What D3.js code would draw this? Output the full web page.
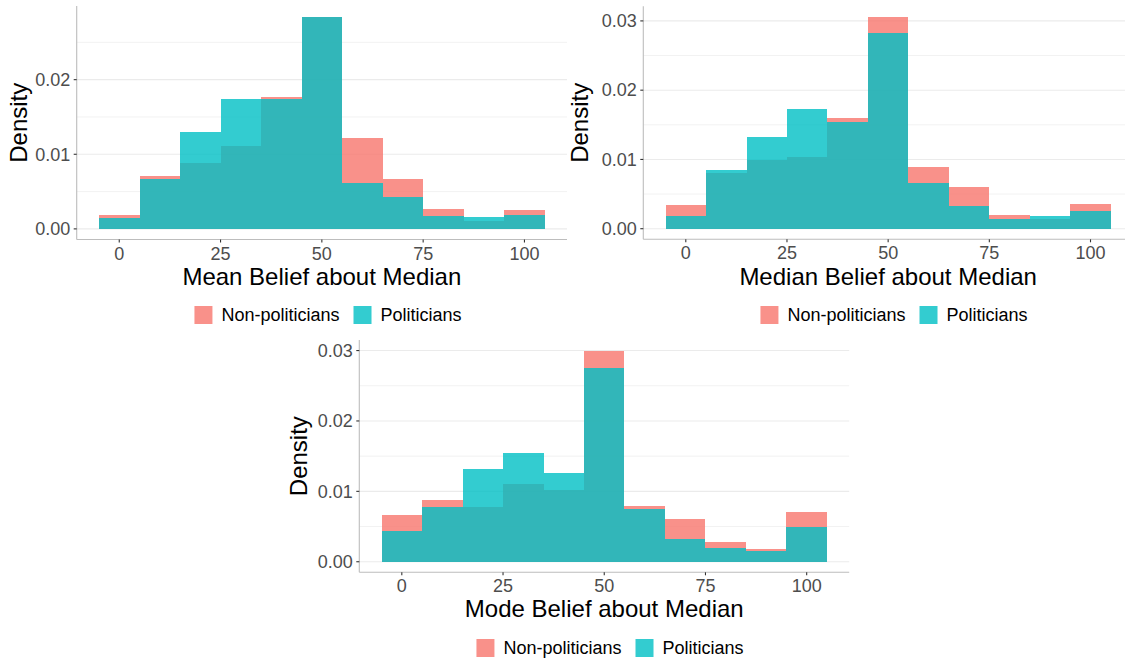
<!DOCTYPE html>
<html>
<head>
<meta charset="utf-8">
<script src="https://cdn.jsdelivr.net/npm/d3@7"></script>
<style>
  html, body { margin: 0; padding: 0; background: #ffffff; }
  svg { display: block; }
  text { font-family: "Liberation Sans", Arial, sans-serif; }
</style>
</head>
<body>
<svg id="chart" width="1125" height="661"></svg>
<script>
// ---- Data ----
const binCenters = [0, 10, 20, 30, 40, 50, 60, 70, 80, 90, 100];
const binWidth = 10;
const seriesNames = ["Non-politicians", "Politicians"];

const meanNonPol = [0.00182, 0.00705, 0.00884, 0.01116, 0.01772, 0.02840, 0.01219, 0.00670, 0.00272, 0.00102, 0.00259];
const meanPol    = [0.00147, 0.00670, 0.01300, 0.01745, 0.01736, 0.02845, 0.00620, 0.00429, 0.00174, 0.00161, 0.00188];

const medianNonPol = [0.00341, 0.00803, 0.00995, 0.01034, 0.01596, 0.03058, 0.00894, 0.00606, 0.00202, 0.00144, 0.00361];
const medianPol    = [0.00188, 0.00851, 0.01322, 0.01731, 0.01538, 0.02822, 0.00654, 0.00332, 0.00144, 0.00188, 0.00255];

const modeNonPol = [0.00658, 0.00875, 0.00781, 0.01107, 0.01013, 0.03000, 0.00795, 0.00606, 0.00274, 0.00175, 0.00700];
const modePol    = [0.00435, 0.00771, 0.01320, 0.01547, 0.01263, 0.02759, 0.00743, 0.00322, 0.00194, 0.00156, 0.00487];

const xTicks = [0, 25, 50, 75, 100];
const yTicksMean = [0, 0.01, 0.02];
const yTicksOther = [0, 0.01, 0.02, 0.03];
const yMinorMean = [0.005, 0.015, 0.025];
const yMinorOther = [0.005, 0.015, 0.025];

const xTitles = ["Mean Belief about Median", "Median Belief about Median", "Mode Belief about Median"];

// ---- Styling ----
const colors = ["#F8766D", "#00BFC4"];
const fillOpacity = 0.8;

const panels = [
  { left: 76.7, right: 567, top: 6, bottom: 239.5, non: meanNonPol, pol: meanPol, yTicks: yTicksMean, yMinor: yMinorMean,
    title: xTitles[0], yTitleX: 27, legendCx: 328, legendTop: 306, titleY: 285 },
  { left: 643.3, right: 1133, top: 6.3, bottom: 239.3, non: medianNonPol, pol: medianPol, yTicks: yTicksOther, yMinor: yMinorOther,
    title: xTitles[1], yTitleX: 588, legendCx: 894, legendTop: 306, titleY: 285 },
  { left: 359.3, right: 849.2, top: 340, bottom: 572.3, non: modeNonPol, pol: modePol, yTicks: yTicksOther, yMinor: yMinorOther,
    title: xTitles[2], yTitleX: 307, legendCx: 610, legendTop: 639, titleY: 617 }
];

const svg = d3.select("#chart");

panels.forEach(p => {
  const g = svg.append("g");
  const dataMax = d3.max([...p.non, ...p.pol]);
  const lo = -binWidth / 2, hi = binCenters[binCenters.length - 1] + binWidth / 2;
  const xPad = (hi - lo) * 0.05;
  const x = d3.scaleLinear().domain([lo - xPad, hi + xPad]).range([p.left, p.right]);
  const y = d3.scaleLinear().domain([-0.05 * dataMax, 1.05 * dataMax]).range([p.bottom, p.top]);

  // minor gridlines
  g.selectAll(".minor").data(p.yMinor.filter(v => v <= 1.05 * dataMax)).enter().append("line")
    .attr("x1", p.left).attr("x2", p.right)
    .attr("y1", d => y(d)).attr("y2", d => y(d))
    .attr("stroke", "#f2f2f2").attr("stroke-width", 1);
  // major gridlines
  g.selectAll(".major").data(p.yTicks).enter().append("line")
    .attr("x1", p.left).attr("x2", p.right)
    .attr("y1", d => y(d)).attr("y2", d => y(d))
    .attr("stroke", "#ebebeb").attr("stroke-width", 1.1);

  // bars: non-politicians first, politicians over
  [p.non, p.pol].forEach((vals, si) => {
    g.selectAll(".bar" + si).data(binCenters).enter().append("rect")
      .attr("x", (d) => Math.round(x(d - binWidth / 2)))
      .attr("width", (d) => Math.round(x(d + binWidth / 2)) - Math.round(x(d - binWidth / 2)))
      .attr("y", (d, i) => Math.round(y(vals[i])))
      .attr("height", (d, i) => Math.round(y(0)) - Math.round(y(vals[i])))
      .attr("fill", colors[si])
      .attr("fill-opacity", fillOpacity)
      .attr("shape-rendering", "crispEdges");
  });

  // axes lines
  g.append("line").attr("x1", p.left).attr("x2", p.left).attr("y1", p.top).attr("y2", p.bottom)
    .attr("stroke", "#bdbdbd").attr("stroke-width", 1.1);
  g.append("line").attr("x1", p.left).attr("x2", p.right).attr("y1", p.bottom).attr("y2", p.bottom)
    .attr("stroke", "#bdbdbd").attr("stroke-width", 1.1);

  // y ticks
  p.yTicks.forEach(t => {
    g.append("line").attr("x1", p.left - 3).attr("x2", p.left).attr("y1", y(t)).attr("y2", y(t))
      .attr("stroke", "#333333").attr("stroke-width", 1.1);
    g.append("text").attr("x", p.left - 6.5).attr("y", y(t)).attr("dy", "0.35em")
      .attr("text-anchor", "end").attr("font-size", 18).attr("fill", "#4d4d4d")
      .text(d3.format(".2f")(t));
  });
  // x ticks
  xTicks.forEach(t => {
    g.append("line").attr("x1", x(t)).attr("x2", x(t)).attr("y1", p.bottom).attr("y2", p.bottom + 3)
      .attr("stroke", "#333333").attr("stroke-width", 1.1);
    g.append("text").attr("x", x(t)).attr("y", p.bottom + 20)
      .attr("text-anchor", "middle").attr("font-size", 18).attr("fill", "#4d4d4d")
      .text(t);
  });

  // axis titles
  g.append("text").attr("x", (p.left + p.right) / 2).attr("y", p.titleY)
    .attr("text-anchor", "middle").attr("font-size", 24).attr("fill", "#000")
    .text(p.title);
  g.append("text")
    .attr("transform", `translate(${p.yTitleX},${(p.top + p.bottom) / 2}) rotate(-90)`)
    .attr("text-anchor", "middle").attr("font-size", 24).attr("fill", "#000")
    .text("Density");

  // legend
  const lg = g.append("g");
  const sq = 18, gapText = 9, gapItem = 14;
  let cx = 0;
  seriesNames.forEach((name, i) => {
    lg.append("rect").attr("x", cx).attr("y", p.legendTop).attr("width", sq).attr("height", sq)
      .attr("fill", colors[i]).attr("fill-opacity", fillOpacity);
    const tx = lg.append("text").attr("x", cx + sq + gapText).attr("y", p.legendTop + sq / 2).attr("dy", "0.35em")
      .attr("font-size", 18).attr("fill", "#000").text(name);
    cx += sq + gapText + tx.node().getComputedTextLength() + gapItem;
  });
  const totalW = cx - gapItem;
  lg.attr("transform", `translate(${p.legendCx - totalW / 2},0)`);
});
</script>
</body>
</html>
